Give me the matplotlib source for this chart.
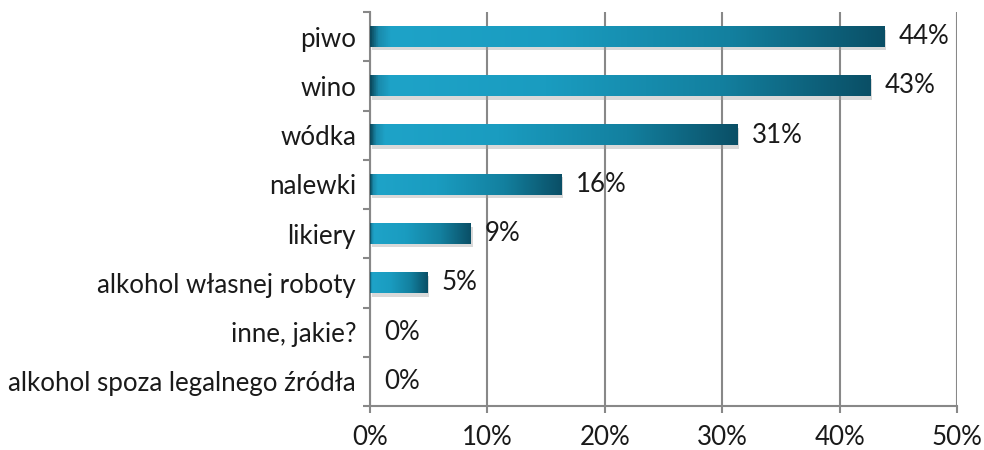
import matplotlib.pyplot as plt
import numpy as np
from matplotlib.colors import LinearSegmentedColormap

categories = ['piwo', 'wino', 'wódka', 'nalewki', 'likiery',
              'alkohol własnej roboty', 'inne, jakie?',
              'alkohol spoza legalnego źródła']
values = [43.8, 42.6, 31.3, 16.3, 8.6, 4.9, 0, 0]
labels = ['44%', '43%', '31%', '16%', '9%', '5%', '0%', '0%']
xticks = [0, 10, 20, 30, 40, 50]

plt.rcParams['font.family'] = ['Lato', 'DejaVu Sans']
FS = 18.6

cmap = LinearSegmentedColormap.from_list('bar', [
    (0.0, '#0b4a5e'), (0.015, '#1a8aab'), (0.04, '#1ea3c8'),
    (0.35, '#1a9cc0'), (0.7, '#13809f'), (1.0, '#0a4f66')])
grad = np.linspace(0, 1, 256).reshape(1, -1)

fig = plt.figure(figsize=(9.84, 4.5), dpi=100)
ax = fig.add_axes([370 / 984, (450 - 406) / 450, 587 / 984, 394 / 450])

n = len(categories)
ys = np.arange(n)[::-1]
h = 0.42
for y, v, lab in zip(ys, values, labels):
    if v > 0:
        # soft shadow
        ax.add_patch(plt.Rectangle((0.15, y - h / 2 - 0.07), v, h,
                                   color='#a0a0a0', alpha=0.4, lw=0, zorder=2))
        ax.imshow(grad, cmap=cmap, aspect='auto',
                  extent=[0, v, y - h / 2, y + h / 2], zorder=3)
    ax.text(v + 1.2, y, lab, va='center', ha='left', fontsize=FS, color='#1a1a1a')

ax.set_xlim(0, 50)
ax.set_ylim(-0.5, n - 0.5)
ax.set_xticks(xticks)
ax.set_xticklabels([f'{t}%' for t in xticks], fontsize=FS, color='#1a1a1a')
ax.set_yticks(ys)
ax.set_yticklabels(categories, fontsize=FS, color='#1a1a1a')
ax.set_yticks(np.arange(n + 1) - 0.5, minor=True)
ax.tick_params(axis='y', which='major', length=0, pad=10)
ax.tick_params(axis='y', which='minor', length=5, color='#888888', width=1.5)
ax.tick_params(axis='x', length=5, color='#888888', width=1.5, pad=9)
ax.grid(axis='x', color='#888888', lw=1.5, zorder=0)
ax.set_axisbelow(True)
for s in ['top', 'right']:
    ax.spines[s].set_visible(False)
for s in ['left', 'bottom']:
    ax.spines[s].set_color('#888888')
    ax.spines[s].set_linewidth(1.5)

fig.savefig('out.png', dpi=100)
